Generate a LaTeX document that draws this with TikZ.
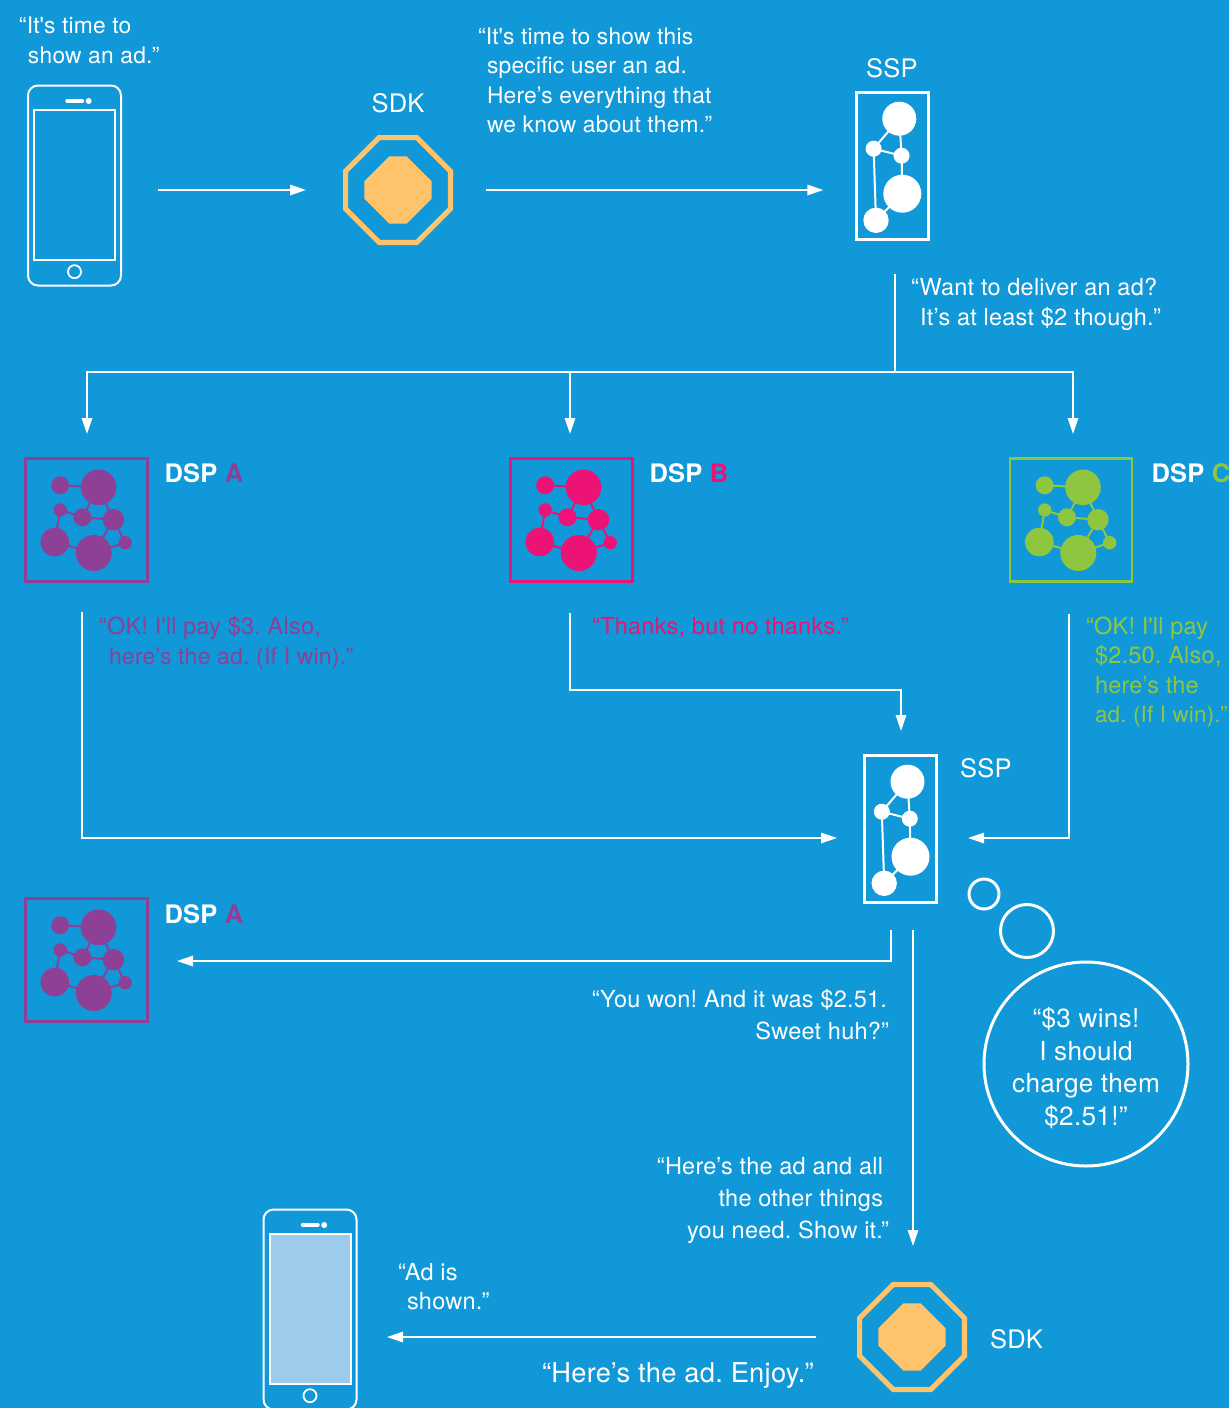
\documentclass[tikz,border=0pt]{standalone}
\usepackage{fontspec}
\setmainfont{TeX Gyre Heros}[LetterSpace=1]
\usetikzlibrary{arrows.meta}
\definecolor{bgblue}{HTML}{1098D8}
\definecolor{dspa}{HTML}{8E3F96}
\definecolor{dspb}{HTML}{EC1276}
\definecolor{dspc}{HTML}{8FC63F}
\definecolor{sdkorange}{HTML}{FFC36B}
\definecolor{adblue}{HTML}{9DCBEC}
\newcommand{\sq}{\textquotesingle}
\tikzset{
  x=1pt,y=-1pt,
  flow/.style={draw=white,line width=1.4pt,-{Triangle[length=16pt,width=10.5pt]}},
  flowline/.style={draw=white,line width=1.4pt},
  txt/.style={anchor=north west,inner sep=0pt,outer sep=0pt,text=white,align=left,font=\fontsize{23.5}{#1}\selectfont},
  txt/.default=30,
  txtsm/.style={anchor=north west,inner sep=0pt,outer sep=0pt,text=white,align=left,font=\fontsize{22.8}{#1}\selectfont},
  txtr/.style={anchor=north east,inner sep=0pt,outer sep=0pt,text=white,align=right,font=\fontsize{23.5}{#1}\selectfont},
  txtr/.default=32,
  label/.style={anchor=center,inner sep=0pt,outer sep=0pt,text=white,font=\fontsize{25.5}{30}\selectfont},
  dsplabel/.style={anchor=west,inner sep=0pt,outer sep=0pt,text=white,font=\fontsize{25.5}{30}\selectfont\bfseries},
  dspbox/.style={draw=#1,line width=2.3pt,minimum width=122pt,minimum height=123pt,inner sep=0pt,fill=none},
  sspbox/.style={draw=white,line width=3pt,minimum width=72pt,minimum height=146.5pt,inner sep=0pt},
  phonebody/.style={draw=white,line width=2pt,rounded corners=10pt,minimum width=93pt,minimum height=200pt,inner sep=0pt},
  octobound/.style={inner sep=0pt,outer sep=0pt,minimum size=110pt},
  bubble/.style={circle,draw=white,line width=3pt,inner sep=0pt,outer sep=0pt},
}
\newcommand{\dspicon}[3]{%
  \node[dspbox=#3] (#1) at (#2) {};
  \begin{scope}[shift={(#2)}]
    \draw[#3,line width=2pt] (-26.3,-34.7)--(12,-32.7)--(-4,-2.7)--(-26.3,-10)--(-31.7,22)--(7.3,33)--(27,-.3)--(-4,-2.7);
    \draw[#3,line width=2pt] (12,-32.7)--(27,-.3)--(38.7,22.7)--(7.3,33);
    \foreach \cx/\cy/\cr in {-26.3/-34.7/9,12/-32.7/17.8,-26.3/-10/6.7,-4/-2.7/9,27/-.3/10.7,-31.7/22/14.3,7.3/33/18,38.7/22.7/6.7}
      \fill[#3] (\cx,\cy) circle[radius=\cr pt];
  \end{scope}}
\newcommand{\sspicon}[2]{%
  \node[sspbox] (#1) at (#2) {};
  \begin{scope}[shift={(#2)}]
    \draw[white,line width=2pt] (7,-47.3)--(-18.7,-17.3)--(9.3,-10.3)--(7,-47.3);
    \draw[white,line width=2pt] (9.3,-10.3)--(10,27.7)--(-16.3,54.3)--(-18.7,-17.3);
    \foreach \cx/\cy/\cr in {7/-47.3/17,-18.7/-17.3/8,9.3/-10.3/8,10/27.7/19,-16.3/54.3/12.7}
      \fill[white] (\cx,\cy) circle[radius=\cr pt];
  \end{scope}}
\newcommand{\phoneicon}[3]{%
  \node[phonebody] (#1) at (#2) {};
  \begin{scope}[shift={(#2)}]
    \draw[white,line width=2pt,fill=#3] (-40.5,-75.2) rectangle (40.5,74.5);
    \draw[white,line width=3.4pt,line cap=round] (-7.5,-84.5)--(8,-84.5);
    \fill[white] (14.2,-84.5) circle[radius=3pt];
    \draw[white,line width=1.8pt] (0,86.2) circle[radius=6.5pt];
  \end{scope}}
\newcommand{\sdkicon}[2]{%
  \node[octobound] (#1) at (#2) {};
  \begin{scope}[shift={(#2)}]
    \draw[sdkorange,line width=5.2pt] (-18.9,-52.4)--(18.9,-52.4)--(52.4,-18.9)--(52.4,18.9)--(18.9,52.4)--(-18.9,52.4)--(-52.4,18.9)--(-52.4,-18.9)--cycle;
    \fill[sdkorange] (-8.7,-33.7)--(8.7,-33.7)--(33.7,-8.7)--(33.7,8.7)--(8.7,33.7)--(-8.7,33.7)--(-33.7,8.7)--(-33.7,-8.7)--cycle;
  \end{scope}}
\begin{document}
\begin{tikzpicture}
\frenchspacing
\useasboundingbox (0,0) rectangle (1229,1408);
\clip (0,0) rectangle (1229,1408);
\fill[bgblue] (0,0) rectangle (1229,1408);

% icons
\phoneicon{phoneA}{74.5,185.5}{none}
\sdkicon{sdkA}{398,190}
\sspicon{sspA}{892.3,166}
\dspicon{dspA}{86.5,520}{dspa}
\dspicon{dspB}{571.5,520}{dspb}
\dspicon{dspC}{1071,520}{dspc}
\sspicon{sspB}{900.5,829}
\dspicon{dspW}{86.5,960}{dspa}
\phoneicon{phoneB}{310,1309.5}{adblue}
\sdkicon{sdkB}{912,1337}

% thought bubbles
\node[bubble,minimum size=30pt] (th1) at (984,894) {};
\node[bubble,minimum size=53pt] (th2) at (1027,931) {};
\node[bubble,minimum size=204pt] (th3) at (1086,1064) {};
\node[inner sep=0pt,align=center,text=white,font=\fontsize{26.2}{32.5}\selectfont] (th3text) at (1086,1068) {“\$3 wins!\\I should\\charge them\\\$2.51!”};

% connector helper coordinates
\coordinate (sspOut) at (895,274);
\coordinate (bus) at (895,372);
\coordinate (toA) at (87,434);
\coordinate (toB) at (570,434);
\coordinate (toC) at (1073,434);
\coordinate (fromA) at (82,612);
\coordinate (fromB) at (570,613);
\coordinate (fromC) at (1069,614);
\coordinate (inA) at (837,838);
\coordinate (inB) at (901,731);
\coordinate (inC) at (968,838);
\coordinate (wonOut) at (891,930);
\coordinate (wonIn) at (177,961);
\coordinate (sdkOut) at (913,930);
\coordinate (sdkIn) at (913,1246);
\coordinate (adOut) at (816,1337);
\coordinate (adIn) at (387,1337);

% connectors
\draw[flow,shorten <=36pt,shorten >=37pt] (phoneA.east |- sdkA) -- (sdkA.west);
\draw[flow,shorten <=33pt,shorten >=31.5pt] (sdkA.east) -- (sdkA -| sspA.west);
\draw[flowline] (sspOut) -- (bus);
\draw[flow] (bus) -| (toA);
\draw[flow] (toB |- bus) -- (toB);
\draw[flow] (bus) -| (toC);
\draw[flow] (fromA) |- (inA);
\draw[flow] (fromB) |- (570,690) -| (inB);
\draw[flow] (fromC) |- (inC);
\draw[flow] (wonOut) |- (wonIn);
\draw[flow] (sdkOut) -- (sdkIn);
\draw[flow] (adOut) -- (adIn);

% texts
\node[txtsm=30] (t1) at (19,17) {“It\sq s time to\\\hspace*{9pt}show an ad.”};
\node[label] (lsdkA) at (398,103) {SDK};
\node[txtsm=29.3] (t2) at (478,28) {“It\sq s time to show this\\\hspace*{9pt}specific user an ad.\\\hspace*{9pt}Here’s everything that\\\hspace*{9pt}we know about them.”};
\node[label] (lsspA) at (892,68) {SSP};
\node[txt] (t3) at (911,278) {“Want to deliver an ad?\\\hspace*{9pt}It’s at least \$2 though.”};
\node[dsplabel] (ldspA) at (164.5,473) {DSP \textcolor{dspa}{A}};
\node[dsplabel] (ldspB) at (649.5,473) {DSP \textcolor{dspb}{B}};
\node[dsplabel] (ldspC) at (1151.5,473) {DSP \textcolor{dspc}{C}};
\node[txt,text=dspa] (t4) at (99,616) {“OK! I\sq ll pay \$3. Also,\\\hspace*{10pt}{\fontsize{23}{30}\selectfont here’s the ad. (If I win).”}};
\node[txt,text=dspb] (t5) at (592,617) {“Thanks, but no thanks.”};
\node[txt=29.3,text=dspc] (t6) at (1086,617) {“OK! I\sq ll pay\\\hspace*{9pt}\$2.50. Also,\\\hspace*{9pt}here’s the\\\hspace*{9pt}{\fontsize{22.4}{29.3}\selectfont ad. (If I win).”}};
\node[label,anchor=west] (lsspB) at (960,768) {SSP};
\node[dsplabel] (ldspW) at (164.5,914) {DSP \textcolor{dspa}{A}};
\node[txtr] (t7) at (887,989) {“You won! And it was \$2.51.\\Sweet huh?”\hspace*{-2pt}};
\node[txtr] (t8) at (883,1157) {“Here’s the ad and all\\the other things\\you need. Show it.\rlap{\kern-2pt ”}};
\node[txt=29] (t9) at (398,1263) {“Ad is\\\hspace*{9pt}shown.”};
\node[anchor=east,inner sep=0pt,text=white,font=\fontsize{27.3}{30}\selectfont] (t10) at (814,1376) {“Here’s the ad. Enjoy.”};
\node[label,anchor=west] (lsdkB) at (990,1339) {SDK};
\end{tikzpicture}
\end{document}
